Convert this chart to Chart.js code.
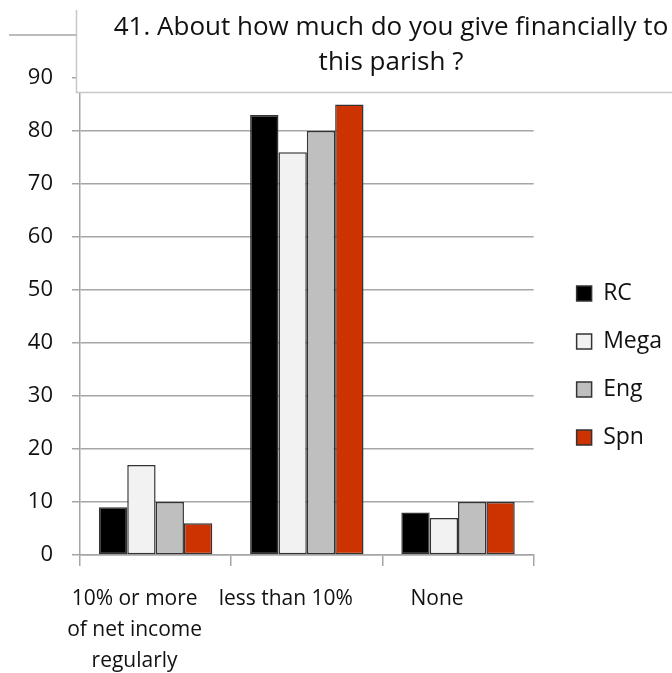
<!DOCTYPE html>
<html>
<head>
<meta charset="utf-8">
<script src="https://cdn.jsdelivr.net/npm/chart.js@4.4.1/dist/chart.umd.min.js"></script>
<style>
  html, body { margin: 0; padding: 0; background: #fff; }
  #wrap { width: 672px; height: 673px; }
</style>
</head>
<body>
<div id="wrap"><canvas id="barChart" width="672" height="673"></canvas></div>
<script>
const chartTitle = ["41. About how much do you give financially to", "this parish ?"];
const categories = [["10% or more", "of net income", "regularly"], "less than 10%", "None"];
const seriesNames = ["RC", "Mega", "Eng", "Spn"];
const rcValues = [9, 83, 8];
const megaValues = [17, 76, 7];
const engValues = [10, 80, 10];
const spnValues = [6, 85, 10];
const yMax = 90;
const yStep = 10;

const fontFamily = "'Open Sans', sans-serif";
const barFills = ["#000000", "#f2f2f2", "#bfbfbf", "#cc3300"];
const gridGray = "#a6a6a6";

const seriesValues = [rcValues, megaValues, engValues, spnValues];

// title box that sits over the top of the plot, like the original
const titleBoxPlugin = {
    id: "titleBox",
    afterLayout: (chart) => {
        // push the legend a bit away from the plot
        chart.legend.left += 18;
        chart.legend.right += 18;
        chart.legend.top -= 10;
        chart.legend.bottom -= 10;
    },
    afterDraw: (chart) => {
        const ctx = chart.ctx;
        ctx.save();
        ctx.fillStyle = "#ffffff";
        ctx.fillRect(77, 0, chart.width - 77, 92);
        ctx.strokeStyle = "#c8c8c8";
        ctx.lineWidth = 1.5;
        ctx.beginPath();
        ctx.moveTo(76.5, 10);
        ctx.lineTo(76.5, 92.5);
        ctx.lineTo(chart.width, 92.5);
        ctx.stroke();
        ctx.strokeStyle = gridGray;
        ctx.beginPath();
        ctx.moveTo(9, 35);
        ctx.lineTo(76, 35);
        ctx.stroke();
        ctx.fillStyle = "#111111";
        ctx.font = "26px " + fontFamily;
        ctx.textAlign = "center";
        ctx.textBaseline = "middle";
        ctx.fillText(chartTitle[0], 391, 28);
        ctx.fillText(chartTitle[1], 391, 63);
        ctx.restore();
    }
};

const ctx = document.getElementById("barChart");

new Chart(ctx, {
    type: "bar",
    data: {
        labels: categories,
        datasets: seriesNames.map((name, i) => ({
            label: name,
            data: seriesValues[i],
            backgroundColor: barFills[i],
            borderColor: "#333333",
            borderWidth: 1.5,
            borderSkipped: false,
            categoryPercentage: 0.75,
            barPercentage: 1
        }))
    },
    options: {
        responsive: false,
        animation: false,
        layout: { padding: { top: 78, left: 10, right: 18, bottom: 0 } },
        plugins: {
            title: { display: false },
            tooltip: { enabled: false },
            legend: {
                position: "right",
                labels: {
                    boxWidth: 15,
                    boxHeight: 15,
                    padding: 25,
                    color: "#111111",
                    font: { family: fontFamily, size: 23 }
                }
            }
        },
        scales: {
            x: {
                grid: {
                    drawOnChartArea: false,
                    drawTicks: true,
                    tickLength: 11,
                    color: gridGray,
                    lineWidth: 1.5
                },
                border: { color: gridGray, width: 1.5 },
                ticks: {
                    color: "#111111",
                    maxRotation: 0,
                    autoSkip: false,
                    labelOffset: -21,
                    padding: 17,
                    font: { family: fontFamily, size: 21, lineHeight: 1.48 }
                },
                afterFit: (scale) => { scale.height = 118; }
            },
            y: {
                min: 0,
                max: yMax,
                ticks: {
                    stepSize: yStep,
                    padding: 19,
                    color: "#111111",
                    font: { family: fontFamily, size: 22 }
                },
                grid: {
                    color: gridGray,
                    lineWidth: 1.5,
                    tickLength: 8
                },
                border: { color: gridGray, width: 1.5 },
                afterFit: (scale) => { scale.width = 70; }
            }
        }
    },
    plugins: [titleBoxPlugin]
});
</script>
</body>
</html>
